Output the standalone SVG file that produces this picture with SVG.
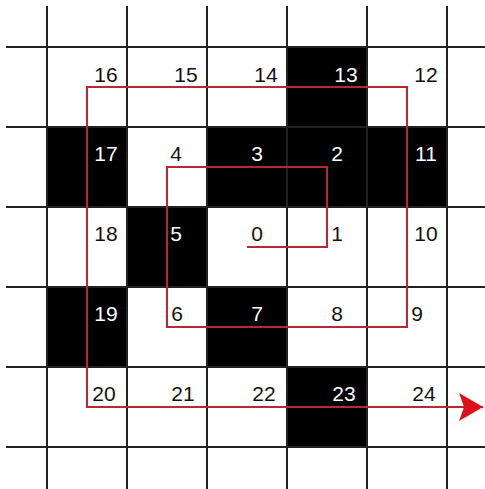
<svg xmlns="http://www.w3.org/2000/svg" width="485" height="489" viewBox="0 0 485 489">
<style>
.cell{fill:#000}
.grid line{stroke:#222;stroke-width:2}
.lbl{font-family:"Liberation Sans",Arial,sans-serif;font-size:21px;text-anchor:middle;fill:#111}
.inv{fill:#fff}
.path{fill:none;stroke:#b8282e;stroke-width:2}
</style>
<defs>
<marker id="arr" markerUnits="userSpaceOnUse" markerWidth="28" markerHeight="30" refX="24" refY="14" orient="auto">
<path d="M0,0 L24,14 L0,28 L5,14 Z" fill="#e0101a"/>
</marker>
</defs>
<rect width="485" height="489" fill="#fff"/>
<g id="cells">
<rect class="cell" x="287" y="47" width="80" height="80"/>
<rect class="cell" x="47" y="127" width="80" height="80"/>
<rect class="cell" x="207" y="127" width="240" height="80"/>
<rect class="cell" x="127" y="207" width="80" height="80"/>
<rect class="cell" x="47" y="287" width="80" height="80"/>
<rect class="cell" x="207" y="287" width="80" height="80"/>
<rect class="cell" x="287" y="367" width="80" height="80"/>
</g>
<g class="grid" id="grid">
<line x1="47" y1="6" x2="47" y2="489"/>
<line x1="127" y1="6" x2="127" y2="489"/>
<line x1="207" y1="6" x2="207" y2="489"/>
<line x1="287" y1="6" x2="287" y2="489"/>
<line x1="367" y1="6" x2="367" y2="489"/>
<line x1="447" y1="6" x2="447" y2="489"/>
<line x1="6" y1="47" x2="485" y2="47"/>
<line x1="6" y1="127" x2="485" y2="127"/>
<line x1="6" y1="207" x2="485" y2="207"/>
<line x1="6" y1="287" x2="485" y2="287"/>
<line x1="6" y1="367" x2="485" y2="367"/>
<line x1="6" y1="447" x2="485" y2="447"/>
</g>
<g id="connectors">
<path class="path" d="M247,247 H327 V167 H167 V327 H407 V87 H87 V407 H483" marker-end="url(#arr)"/>
</g>
<g id="labels">
<text class="lbl" x="106" y="82">16</text>
<text class="lbl" x="186" y="82">15</text>
<text class="lbl" x="266" y="82">14</text>
<text class="lbl inv" x="346" y="82">13</text>
<text class="lbl" x="426" y="82">12</text>
<text class="lbl inv" x="106" y="161">17</text>
<text class="lbl" x="176" y="161">4</text>
<text class="lbl inv" x="257" y="161">3</text>
<text class="lbl inv" x="337" y="161">2</text>
<text class="lbl inv" x="426" y="161">11</text>
<text class="lbl" x="106" y="241">18</text>
<text class="lbl inv" x="176" y="241">5</text>
<text class="lbl" x="257" y="241">0</text>
<text class="lbl" x="337" y="241">1</text>
<text class="lbl" x="426" y="241">10</text>
<text class="lbl inv" x="106" y="321">19</text>
<text class="lbl" x="177" y="321">6</text>
<text class="lbl inv" x="257" y="321">7</text>
<text class="lbl" x="337" y="321">8</text>
<text class="lbl" x="417" y="321">9</text>
<text class="lbl" x="104" y="401">20</text>
<text class="lbl" x="183" y="401">21</text>
<text class="lbl" x="264" y="401">22</text>
<text class="lbl inv" x="344" y="401">23</text>
<text class="lbl" x="424" y="401">24</text>
</g>
</svg>
